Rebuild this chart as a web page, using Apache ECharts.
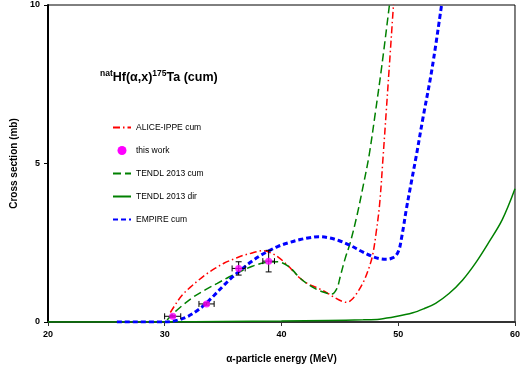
<!DOCTYPE html>
<html><head><meta charset="utf-8">
<script src="https://cdn.jsdelivr.net/npm/echarts@6/dist/echarts.min.js"></script>
<style>html,body{margin:0;padding:0;background:#fff}#c{width:523px;height:372px}</style>
</head><body><div id="c"></div>
<script>
var xTicks = [20, 30, 40, 50, 60];
var yTicks = [0, 5, 10];
var aliceCum = [[30.48,0.3],[31.0,0.6],[31.5,0.85],[32.2,1.1],[32.9,1.32],[33.6,1.52],[34.3,1.69],[35.1,1.86],[36.0,2.0],[36.7,2.1],[37.4,2.17],[38.0,2.23],[38.5,2.25],[39.1,2.18],[39.66,2.06],[40.5,1.8],[41.0,1.6],[41.6,1.38],[42.3,1.2],[43.05,1.08],[43.9,0.92],[44.6,0.76],[45.2,0.65],[45.6,0.62],[46.0,0.7],[46.44,0.9],[47.0,1.25],[47.43,1.64],[47.8,2.1],[48.1,2.8],[48.4,3.7],[48.7,5.2],[49.15,7.6],[49.6,10.05]];
var thisWorkE = [30.68, 33.58, 36.33, 38.9];
var thisWorkS = [0.18, 0.57, 1.69, 1.92];
var thisWorkDE = [0.69, 0.65, 0.56, 0.5];
var thisWorkDS = [0.03, 0.04, 0.21, 0.34];
var tendlCum = [[30.2,0.06],[30.6,0.22],[31.0,0.36],[31.5,0.52],[32.5,0.8],[33.5,1.02],[34.5,1.22],[35.5,1.42],[36.5,1.6],[37.5,1.76],[38.3,1.85],[39.0,1.89],[39.7,1.9],[40.1,1.86],[40.5,1.78],[41.0,1.62],[41.6,1.38],[42.3,1.18],[43.05,1.02],[43.7,0.93],[44.3,0.88],[44.75,1.06],[45.03,1.43],[45.45,2.0],[45.87,2.48],[46.44,3.32],[47.0,4.3],[47.5,5.25],[48.0,6.5],[48.6,8.1],[49.26,10.05]];
var tendlDir = [[20,0],[30,0.005],[35,0.015],[40,0.03],[44,0.05],[47,0.07],[48.4,0.09],[49.8,0.17],[51.25,0.29],[52.2,0.42],[53.2,0.59],[54.35,0.9],[55.5,1.32],[56.6,1.85],[57.7,2.48],[58.9,3.22],[60,4.2]];
var empireCum = [[25.9,0],[30.0,0],[30.6,0.02],[31.3,0.08],[32.0,0.18],[32.7,0.34],[33.4,0.54],[34.2,0.83],[35.1,1.17],[35.8,1.42],[36.55,1.65],[37.4,1.9],[38.25,2.11],[39.0,2.26],[39.66,2.38],[40.6,2.5],[41.6,2.6],[42.4,2.66],[43.2,2.69],[44.0,2.66],[44.9,2.57],[45.87,2.42],[46.8,2.24],[47.7,2.08],[48.4,2.0],[49.1,1.98],[49.5,2.02],[49.83,2.11],[50.1,2.32],[50.25,2.59],[50.45,3.0],[50.68,3.53],[51.1,4.37],[51.55,5.25],[52.1,6.4],[52.9,8.0],[53.73,10.05]];

var pts = thisWorkE.map(function(e,i){return [e, thisWorkS[i]];});
var errs = thisWorkE.map(function(e,i){return [e, thisWorkS[i], thisWorkDE[i], thisWorkDS[i]];});

var chart = echarts.init(document.getElementById('c'), null, {renderer:'canvas'});
var F = 'Liberation Sans, Arial, sans-serif';
chart.setOption({
  animation:false,
  backgroundColor:'#fff',
  title:{
    left:95, top:64,
    text:'{sup|nat}{b|Hf(α,x)}{sup|175}{b|Ta (cum)}',
    textStyle:{rich:{
      b:{fontFamily:F,fontWeight:'bold',fontSize:12.5,color:'#000',lineHeight:17},
      sup:{fontFamily:F,fontWeight:'bold',fontSize:8.5,color:'#000',verticalAlign:'top',lineHeight:17,padding:[0,0,6,0]}
    }}
  },
  legend:{
    orient:'vertical', left:112, top:123, itemGap:14, itemWidth:18, itemHeight:9, padding:0,
    textStyle:{fontFamily:F,fontSize:8.5,color:'#000'},
    itemStyle:{opacity:0},
    data:['ALICE-IPPE cum',{name:'this work',itemStyle:{opacity:1}},'TENDL 2013 cum','TENDL 2013 dir','EMPIRE cum']
  },
  grid:{left:48,right:3,top:5,bottom:50,show:true,borderColor:'#000',borderWidth:1},
  xAxis:{
    type:'value', min:20, max:60, interval:10,
    axisLine:{lineStyle:{color:'#333',width:2}},
    axisTick:{show:true,length:4,lineStyle:{color:'#333'}},
    splitLine:{show:false},
    axisLabel:{fontFamily:F,fontWeight:'bold',fontSize:9,color:'#000',margin:8,
      formatter:function(v){return xTicks.indexOf(v)>=0?String(v):'';}},
    name:'α-particle energy (MeV)', nameLocation:'middle', nameGap:32,
    nameTextStyle:{fontFamily:F,fontWeight:'bold',fontSize:10,color:'#000'}
  },
  yAxis:{
    type:'value', min:0, max:10, interval:5,
    axisLine:{show:true,lineStyle:{color:'#000',width:2}},
    axisTick:{show:true,length:4,lineStyle:{color:'#000'}},
    splitLine:{show:false},
    axisLabel:{fontFamily:F,fontWeight:'bold',fontSize:9,color:'#000',margin:8,
      formatter:function(v){return yTicks.indexOf(v)>=0?String(v):'';}},
    name:'Cross section (mb)', nameLocation:'middle', nameGap:26,
    nameTextStyle:{fontFamily:F,fontWeight:'bold',fontSize:10,color:'#000'}
  },
  series:[
    {name:'TENDL 2013 dir',type:'line',data:tendlDir,symbol:'none',smooth:0.35,z:2,
      lineStyle:{color:'#008000',width:1.5,type:'solid'},itemStyle:{color:'#008000'}},
    {name:'ALICE-IPPE cum',type:'line',data:aliceCum,symbol:'none',smooth:0.35,z:3,
      lineStyle:{color:'#ff0000',width:1.5,type:[7,3,1.5,3]},itemStyle:{color:'#ff0000'}},
    {name:'TENDL 2013 cum',type:'line',data:tendlCum,symbol:'none',smooth:0.35,z:3,
      lineStyle:{color:'#008000',width:1.5,type:[8,4]},itemStyle:{color:'#008000'}},
    {name:'EMPIRE cum',type:'line',data:empireCum,symbol:'none',smooth:0.35,z:4,
      lineStyle:{color:'#0000ff',width:3,type:[5,3]},itemStyle:{color:'#0000ff'}},
    {name:'this work-err',type:'custom',data:errs,z:5,
      renderItem:function(params,api){
        var x=api.value(0),y=api.value(1),dx=api.value(2),dy=api.value(3);
        var l=api.coord([x-dx,y]),r=api.coord([x+dx,y]),t=api.coord([x,y+dy]),b=api.coord([x,y-dy]);
        var c=3, st={stroke:'#000',lineWidth:1};
        return {type:'group',children:[
          {type:'line',shape:{x1:l[0],y1:l[1],x2:r[0],y2:r[1]},style:st},
          {type:'line',shape:{x1:l[0],y1:l[1]-c,x2:l[0],y2:l[1]+c},style:st},
          {type:'line',shape:{x1:r[0],y1:r[1]-c,x2:r[0],y2:r[1]+c},style:st},
          {type:'line',shape:{x1:t[0],y1:t[1],x2:b[0],y2:b[1]},style:st},
          {type:'line',shape:{x1:t[0]-c,y1:t[1],x2:t[0]+c,y2:t[1]},style:st},
          {type:'line',shape:{x1:b[0]-c,y1:b[1],x2:b[0]+c,y2:b[1]},style:st}
        ]};
      }},
    {name:'this work',type:'scatter',data:pts,symbol:'circle',symbolSize:7,z:6,
      itemStyle:{color:'#ff00ff'}}
  ]
});
</script></body></html>
